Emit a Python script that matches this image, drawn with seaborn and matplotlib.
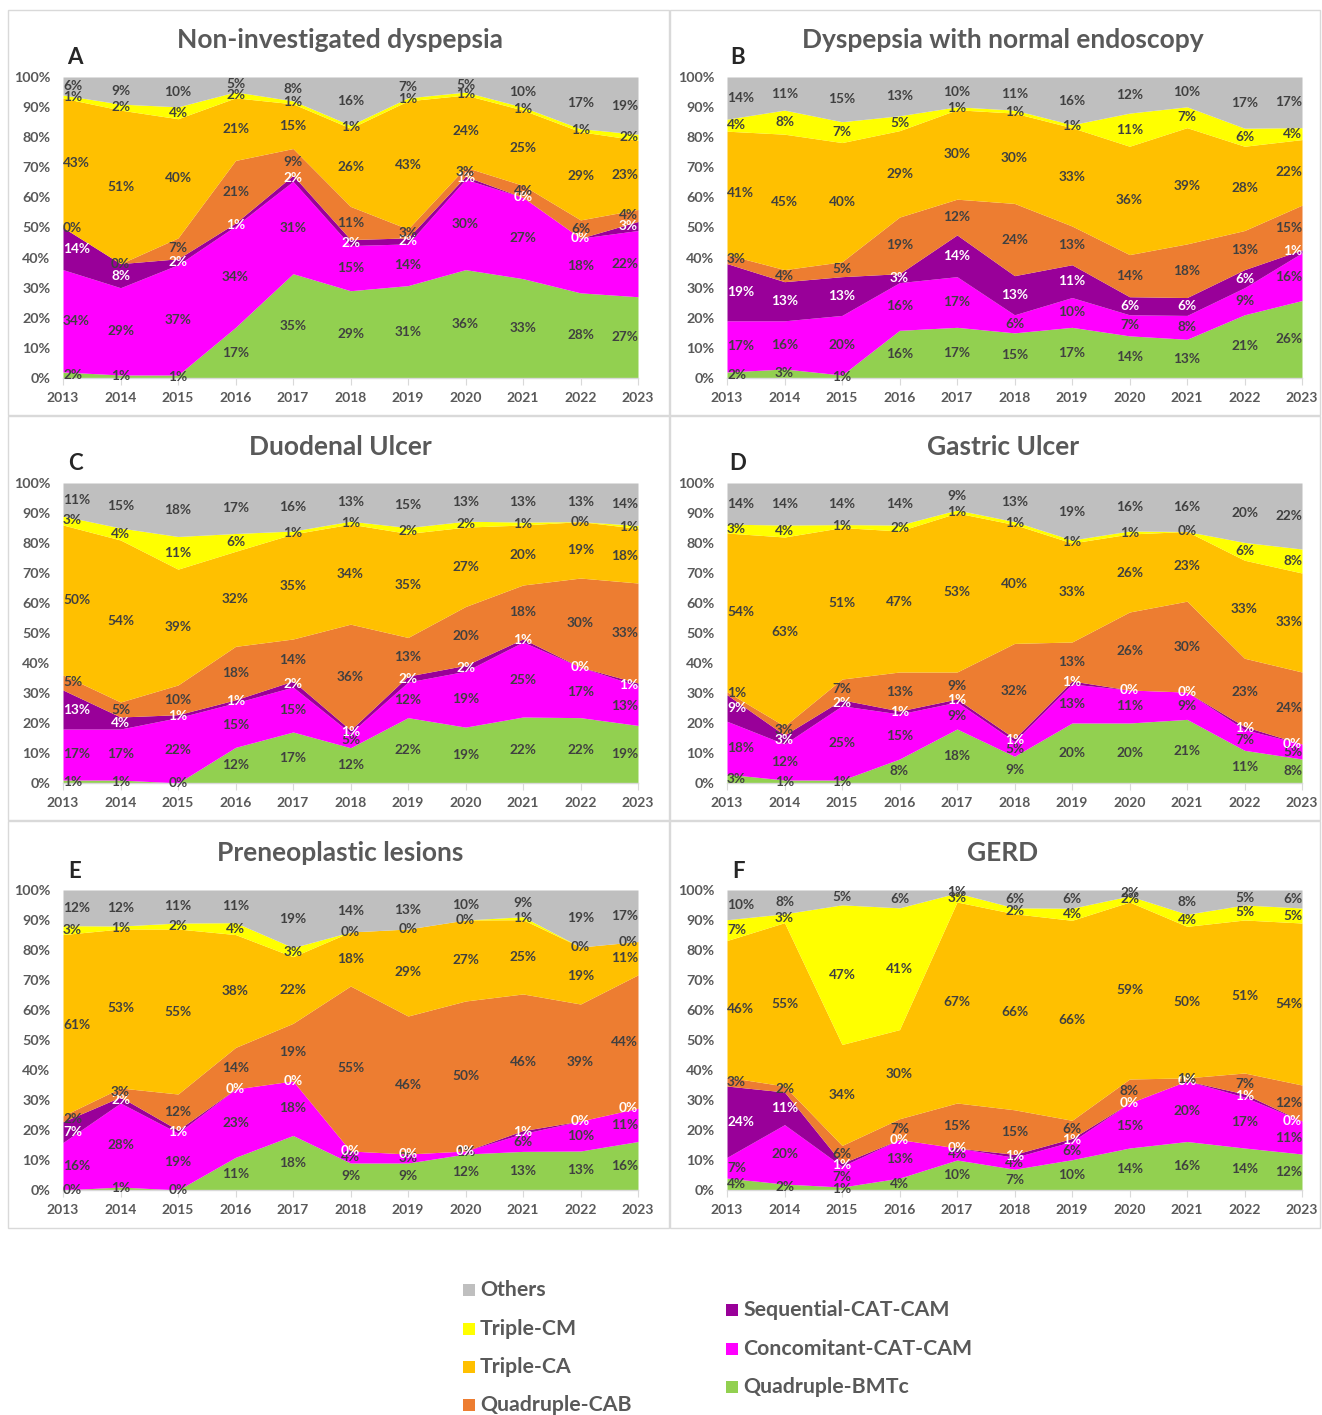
import numpy as np
import pandas as pd
import matplotlib
matplotlib.use("Agg")
import matplotlib.pyplot as plt
import seaborn as sns
from matplotlib.patches import Rectangle

# ---------------- data ----------------
years = list(range(2013, 2024))
series_names = ["Quadruple-BMTc", "Concomitant-CAT-CAM", "Sequential-CAT-CAM",
                "Quadruple-CAB", "Triple-CA", "Triple-CM", "Others"]
series_colors = ["#92D050", "#FF00FF", "#990099", "#ED7D31", "#FFC000", "#FFFF00", "#BFBFBF"]

panel_titles = ["Non-investigated dyspepsia", "Dyspepsia with normal endoscopy",
                "Duodenal Ulcer", "Gastric Ulcer", "Preneoplastic lesions", "GERD"]
panel_letters = ["A", "B", "C", "D", "E", "F"]

# A: Non-investigated dyspepsia
a_bmtc = [2, 1, 1, 17, 35, 29, 31, 36, 33, 28, 27]
a_conc = [34, 29, 37, 34, 31, 15, 14, 30, 27, 18, 22]
a_seq = [14, 8, 2, 1, 2, 2, 2, 1, 0, 0, 3]
a_cab = [0, 0, 7, 21, 9, 11, 3, 3, 4, 6, 4]
a_tca = [43, 51, 40, 21, 15, 26, 43, 24, 25, 29, 23]
a_tcm = [1, 2, 4, 2, 1, 1, 1, 1, 1, 1, 2]
a_oth = [6, 9, 10, 5, 8, 16, 7, 5, 10, 17, 19]

# B: Dyspepsia with normal endoscopy
b_bmtc = [2, 3, 1, 16, 17, 15, 17, 14, 13, 21, 26]
b_conc = [17, 16, 20, 16, 17, 6, 10, 7, 8, 9, 16]
b_seq = [19, 13, 13, 3, 14, 13, 11, 6, 6, 6, 1]
b_cab = [3, 4, 5, 19, 12, 24, 13, 14, 18, 13, 15]
b_tca = [41, 45, 40, 29, 30, 30, 33, 36, 39, 28, 22]
b_tcm = [4, 8, 7, 5, 1, 1, 1, 11, 7, 6, 4]
b_oth = [14, 11, 15, 13, 10, 11, 16, 12, 10, 17, 17]

# C: Duodenal Ulcer
c_bmtc = [1, 1, 0, 12, 17, 12, 22, 19, 22, 22, 19]
c_conc = [17, 17, 22, 15, 15, 5, 12, 19, 25, 17, 13]
c_seq = [13, 4, 1, 1, 2, 1, 2, 2, 1, 0, 1]
c_cab = [5, 5, 10, 18, 14, 36, 13, 20, 18, 30, 33]
c_tca = [50, 54, 39, 32, 35, 34, 35, 27, 20, 19, 18]
c_tcm = [3, 4, 11, 6, 1, 1, 2, 2, 1, 0, 1]
c_oth = [11, 15, 18, 17, 16, 13, 15, 13, 13, 13, 14]

# D: Gastric Ulcer
d_bmtc = [3, 1, 1, 8, 18, 9, 20, 20, 21, 11, 8]
d_conc = [18, 12, 25, 15, 9, 5, 13, 11, 9, 7, 5]
d_seq = [9, 3, 2, 1, 1, 1, 1, 0, 0, 1, 0]
d_cab = [1, 3, 7, 13, 9, 32, 13, 26, 30, 23, 24]
d_tca = [54, 63, 51, 47, 53, 40, 33, 26, 23, 33, 33]
d_tcm = [3, 4, 1, 2, 1, 1, 1, 1, 0, 6, 8]
d_oth = [14, 14, 14, 14, 9, 13, 19, 16, 16, 20, 22]

# E: Preneoplastic lesions
e_bmtc = [0, 1, 0, 11, 18, 9, 9, 12, 13, 13, 16]
e_conc = [16, 28, 19, 23, 18, 4, 3, 1, 6, 10, 11]
e_seq = [7, 2, 1, 0, 0, 0, 0, 0, 1, 0, 0]
e_cab = [2, 3, 12, 14, 19, 55, 46, 50, 46, 39, 44]
e_tca = [61, 53, 55, 38, 22, 18, 29, 27, 25, 19, 11]
e_tcm = [3, 1, 2, 4, 3, 0, 0, 0, 1, 0, 0]
e_oth = [12, 12, 11, 11, 19, 14, 13, 10, 9, 19, 17]

# F: GERD
f_bmtc = [4, 2, 1, 4, 10, 7, 10, 14, 16, 14, 12]
f_conc = [7, 20, 7, 13, 4, 4, 6, 15, 20, 17, 11]
f_seq = [24, 11, 1, 0, 0, 1, 1, 0, 0, 1, 0]
f_cab = [3, 2, 6, 7, 15, 15, 6, 8, 1, 7, 12]
f_tca = [46, 55, 34, 30, 67, 66, 66, 59, 50, 51, 54]
f_tcm = [7, 3, 47, 41, 3, 2, 4, 2, 4, 5, 5]
f_oth = [10, 8, 5, 6, 1, 6, 6, 2, 8, 5, 6]

panels = [
    [a_bmtc, a_conc, a_seq, a_cab, a_tca, a_tcm, a_oth],
    [b_bmtc, b_conc, b_seq, b_cab, b_tca, b_tcm, b_oth],
    [c_bmtc, c_conc, c_seq, c_cab, c_tca, c_tcm, c_oth],
    [d_bmtc, d_conc, d_seq, d_cab, d_tca, d_tcm, d_oth],
    [e_bmtc, e_conc, e_seq, e_cab, e_tca, e_tcm, e_oth],
    [f_bmtc, f_conc, f_seq, f_cab, f_tca, f_tcm, f_oth],
]

# ---------------- style ----------------
sns.set_theme(style="white")
plt.rcParams["font.family"] = ["Lato", "DejaVu Sans"]
TXT = "#595959"
LBL = "#404040"

W, H = 1322, 1415
fig = plt.figure(figsize=(W / 100, H / 100), dpi=100)
fig.patch.set_facecolor("white")


def rect(x0, x1, ytop, ybot):
    return [x0 / W, 1 - ybot / H, (x1 - x0) / W, (ybot - ytop) / H]


col_x = [(63, 638), (727, 1302)]
row_y = [(77, 378), (483, 783), (890, 1190)]
box_x = [(8, 669), (670, 1320)]
box_y = [(10, 415), (416, 820), (821, 1228)]
title_x = [340, 1003]
title_y = [40, 447, 853]
letter_x = [75, 738]
letter_y = [58, 464, 871]

for i, data in enumerate(panels):
    r, c = divmod(i, 2)
    # panel border
    bx0, bx1 = box_x[c]
    by0, by1 = box_y[r]
    fig.patches.append(Rectangle((bx0 / W, 1 - by1 / H), (bx1 - bx0) / W, (by1 - by0) / H,
                                 transform=fig.transFigure, fill=False,
                                 edgecolor="#D9D9D9", linewidth=1.0))
    ax = fig.add_axes(rect(col_x[c][0], col_x[c][1], row_y[r][0], row_y[r][1]))
    df = pd.DataFrame({n: v for n, v in zip(series_names, data)}, index=years)
    norm = df.div(df.sum(axis=1), axis=0) * 100
    ax.stackplot(norm.index, *[norm[n].values for n in series_names],
                 colors=series_colors, linewidth=0)
    ax.set_xlim(2013, 2023)
    ax.set_ylim(0, 100)
    ax.set_yticks(np.arange(0, 101, 10))
    ax.set_yticklabels([f"{t}%" for t in range(0, 101, 10)], fontsize=10.3,
                       fontweight="bold", color=TXT)
    ax.set_xticks(years)
    ax.set_xticklabels([str(y) for y in years], fontsize=10, fontweight="bold", color=TXT)
    ax.tick_params(axis="y", length=0, pad=9)
    ax.tick_params(axis="x", length=5, width=0.8, color="#D9D9D9", pad=5, direction="out",
                   bottom=True)
    for s in ["top", "right", "left"]:
        ax.spines[s].set_visible(False)
    ax.spines["bottom"].set_color("#D9D9D9")
    ax.spines["bottom"].set_linewidth(1.0)
    ax.grid(False)
    ax.set_facecolor("white")
    # data labels
    cum = norm.cumsum(axis=1)
    for k, n in enumerate(series_names):
        top = cum[n].values
        bot = top - norm[n].values
        mid = (top + bot) / 2
        col = "white" if n == "Sequential-CAT-CAM" else LBL
        for j, y in enumerate(years):
            ha = "left" if j == 0 else ("right" if j == len(years) - 1 else "center")
            ax.text(y, mid[j], f"{df[n].values[j]}%", ha=ha, va="center", fontsize=9.8,
                    fontweight="bold", color=col, clip_on=False)
    fig.text(title_x[c] / W, 1 - title_y[r] / H, panel_titles[i], ha="center", va="center",
             fontsize=19, fontweight="bold", color=TXT)
    fig.text(letter_x[c] / W, 1 - letter_y[r] / H, panel_letters[i], ha="center", va="center",
             fontsize=16, fontweight="bold", color="#262626")

# legend
leg_left = [("Others", 1290), ("Triple-CM", 1329), ("Triple-CA", 1367), ("Quadruple-CAB", 1405)]
leg_right = [("Sequential-CAT-CAM", 1310), ("Concomitant-CAT-CAM", 1349), ("Quadruple-BMTc", 1387)]
cmap = dict(zip(series_names, series_colors))
for items, x0 in [(leg_left, 463), (leg_right, 726)]:
    for name, yc in items:
        fig.patches.append(Rectangle((x0 / W, 1 - (yc + 6) / H), 12 / W, 12 / H,
                                     transform=fig.transFigure, facecolor=cmap[name],
                                     edgecolor="none"))
        fig.text((x0 + 17) / W, 1 - yc / H, name, ha="left", va="center", fontsize=15.3,
                 fontweight="bold", color=TXT)

fig.savefig("out.png", dpi=100, facecolor="white")
